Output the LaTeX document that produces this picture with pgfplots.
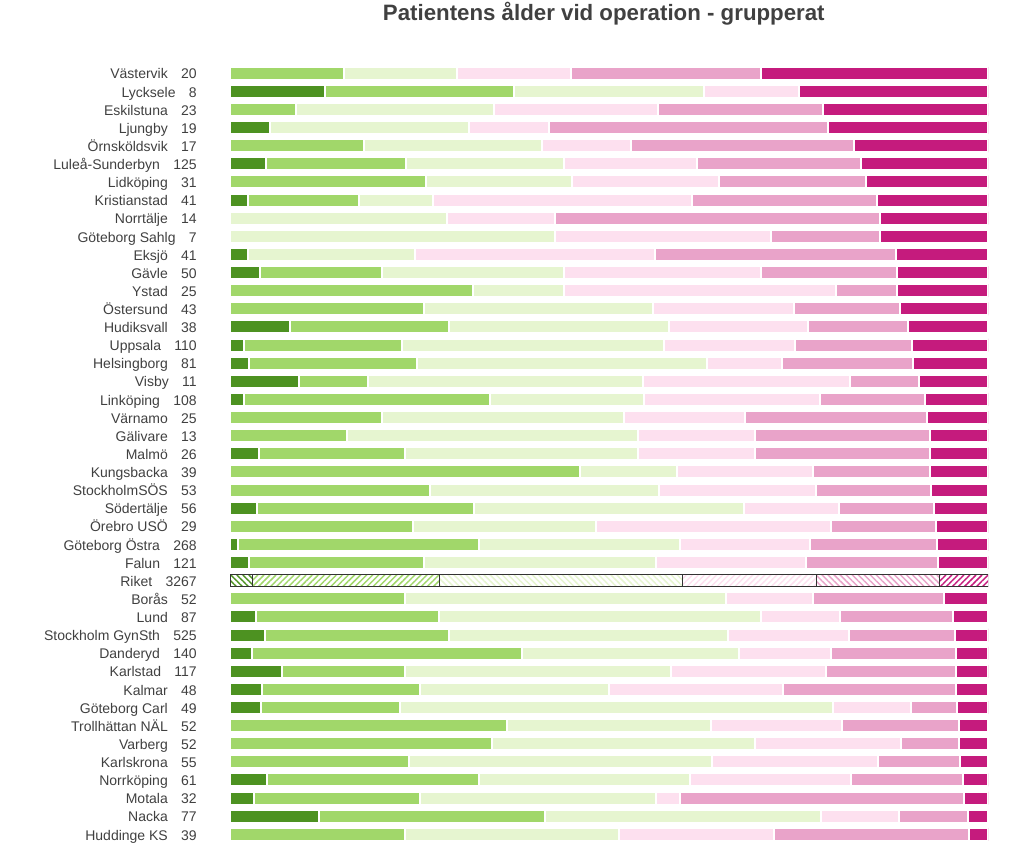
\documentclass[border=0pt]{standalone}
\usepackage{pgfplots}
\pgfplotsset{compat=1.18}
\usepackage{pgfplotstable}
\usetikzlibrary{patterns.meta}
\usepackage{fontspec}
\setmainfont{Liberation Sans}
\definecolor{c1}{HTML}{4D9221}
\definecolor{c2}{HTML}{A1D76A}
\definecolor{c3}{HTML}{E6F5D0}
\definecolor{c4}{HTML}{FDE0EF}
\definecolor{c5}{HTML}{E9A3C9}
\definecolor{c6}{HTML}{C51B7D}
\definecolor{txt}{HTML}{404040}

% counts per age group (n = total), rows top to bottom
\pgfplotstableread{
idx n a b c d e f
0 20 0 3 3 3 5 6
1 8 1 2 2 1 0 2
2 23 0 2 6 5 5 5
3 19 1 0 5 2 7 4
4 17 0 3 4 2 5 3
5 125 6 23 26 22 27 21
6 31 0 8 6 6 6 5
7 41 1 6 4 14 10 6
8 14 0 0 4 2 6 2
9 7 0 0 3 2 1 1
10 41 1 0 9 13 13 5
11 50 2 8 12 13 9 6
12 25 0 8 3 9 2 3
13 43 0 11 13 8 6 5
14 38 3 8 11 7 5 4
15 110 2 23 38 19 17 11
16 81 2 18 31 8 14 8
17 11 1 1 4 3 1 1
18 108 2 35 22 25 15 9
19 25 0 5 8 4 6 2
20 13 0 2 5 2 3 1
21 26 1 5 8 4 6 2
22 39 0 18 5 7 6 3
23 53 0 14 16 11 8 4
24 56 2 16 20 7 7 4
25 29 0 7 7 9 4 2
26 268 3 85 71 46 45 18
27 121 3 28 37 24 21 8
29 52 0 12 22 6 9 3
30 87 3 21 37 9 13 4
31 525 24 128 193 84 73 23
32 140 4 50 40 17 23 6
33 117 8 19 41 24 20 5
34 48 2 10 12 11 11 2
35 49 2 9 28 5 3 2
36 52 0 19 14 9 8 2
37 52 0 18 18 10 4 2
38 55 0 13 22 12 6 2
39 61 3 17 17 13 9 2
40 32 1 7 10 1 12 1
41 77 9 23 28 8 7 2
42 39 0 9 11 8 10 1
}\datatab

\pgfplotstableread{
idx n a b c d e f
28 3267 99 804 1047 578 529 210
}\riket

\begin{document}
\begin{tikzpicture}
\path[use as bounding box] (0,0) rectangle (768pt,-633.75pt);
\node[font=\fontsize{16.7}{20}\selectfont\bfseries, text=txt, anchor=base, inner sep=0pt] at (452.85pt,-15.75pt) {Patientens ålder vid operation - grupperat};

\begin{axis}[
  at={(172.5pt,-632.55pt)}, anchor=south west,
  scale only axis, width=568.5pt, height=584.4pt,
  xbar stacked, bar width=9.75pt,
  xmin=0, xmax=100, ymin=-0.5, ymax=42.5, y dir=reverse,
  axis line style={draw=none},
  xtick=\empty, ytick={0,...,42}, major tick length=0pt,
  yticklabels={
    {Västervik\hspace{10pt}20},{Lycksele\hspace{10pt}8},{Eskilstuna\hspace{10pt}23},
    {Ljungby\hspace{10pt}19},{Örnsköldsvik\hspace{10pt}17},{Luleå-Sunderbyn\hspace{10pt}125},
    {Lidköping\hspace{10pt}31},{Kristianstad\hspace{10pt}41},{Norrtälje\hspace{10pt}14},
    {Göteborg Sahlg\hspace{10pt}7},{Eksjö\hspace{10pt}41},{Gävle\hspace{10pt}50},
    {Ystad\hspace{10pt}25},{Östersund\hspace{10pt}43},{Hudiksvall\hspace{10pt}38},
    {Uppsala\hspace{10pt}110},{Helsingborg\hspace{10pt}81},{Visby\hspace{10pt}11},
    {Linköping\hspace{10pt}108},{Värnamo\hspace{10pt}25},{Gälivare\hspace{10pt}13},
    {Malmö\hspace{10pt}26},{Kungsbacka\hspace{10pt}39},{StockholmSÖS\hspace{10pt}53},
    {Södertälje\hspace{10pt}56},{Örebro USÖ\hspace{10pt}29},{Göteborg Östra\hspace{10pt}268},
    {Falun\hspace{10pt}121},{Riket\hspace{10pt}3267},{Borås\hspace{10pt}52},
    {Lund\hspace{10pt}87},{Stockholm GynSth\hspace{10pt}525},{Danderyd\hspace{10pt}140},
    {Karlstad\hspace{10pt}117},{Kalmar\hspace{10pt}48},{Göteborg Carl\hspace{10pt}49},
    {Trollhättan NÄL\hspace{10pt}52},{Varberg\hspace{10pt}52},{Karlskrona\hspace{10pt}55},
    {Norrköping\hspace{10pt}61},{Motala\hspace{10pt}32},{Nacka\hspace{10pt}77},
    {Huddinge KS\hspace{10pt}39}},
  yticklabel style={anchor=east, inner sep=0pt, xshift=-24.75pt,
    text height=7.5pt, text depth=0pt, yshift=-0.5pt,
    font=\fontsize{10.5}{12}\selectfont, text=txt},
]
\addplot[fill=c1, draw=white, line width=1.5pt] table[y=idx, x expr=\thisrow{a}/\thisrow{n}*100]{\datatab};
\addplot[fill=c2, draw=white, line width=1.5pt] table[y=idx, x expr=\thisrow{b}/\thisrow{n}*100]{\datatab};
\addplot[fill=c3, draw=white, line width=1.5pt] table[y=idx, x expr=\thisrow{c}/\thisrow{n}*100]{\datatab};
\addplot[fill=c4, draw=white, line width=1.5pt] table[y=idx, x expr=\thisrow{d}/\thisrow{n}*100]{\datatab};
\addplot[fill=c5, draw=white, line width=1.5pt] table[y=idx, x expr=\thisrow{e}/\thisrow{n}*100]{\datatab};
\addplot[fill=c6, draw=white, line width=1.5pt] table[y=idx, x expr=\thisrow{f}/\thisrow{n}*100]{\datatab};
\end{axis}

\begin{axis}[
  at={(172.5pt,-632.55pt)}, anchor=south west,
  scale only axis, width=568.5pt, height=584.4pt,
  xbar stacked, bar width=8.5pt,
  xmin=0, xmax=100, ymin=-0.5, ymax=42.5, y dir=reverse,
  hide axis,
]
\addplot[draw=black!80, line width=0.75pt, pattern={Lines[angle=-45,distance=3.2pt,line width=1.1pt]}, pattern color=c1] table[y=idx, x expr=\thisrow{a}/\thisrow{n}*100]{\riket};
\addplot[draw=black!80, line width=0.75pt, pattern={Lines[angle=45,distance=3.2pt,line width=1.1pt]}, pattern color=c2] table[y=idx, x expr=\thisrow{b}/\thisrow{n}*100]{\riket};
\addplot[draw=black!80, line width=0.75pt, pattern={Lines[angle=-45,distance=3.2pt,line width=1.1pt]}, pattern color=c3] table[y=idx, x expr=\thisrow{c}/\thisrow{n}*100]{\riket};
\addplot[draw=black!80, line width=0.75pt, pattern={Lines[angle=45,distance=3.2pt,line width=1.1pt]}, pattern color=c4] table[y=idx, x expr=\thisrow{d}/\thisrow{n}*100]{\riket};
\addplot[draw=black!80, line width=0.75pt, pattern={Lines[angle=-45,distance=3.2pt,line width=1.1pt]}, pattern color=c5] table[y=idx, x expr=\thisrow{e}/\thisrow{n}*100]{\riket};
\addplot[draw=black!80, line width=0.75pt, pattern={Lines[angle=45,distance=3.2pt,line width=1.1pt]}, pattern color=c6] table[y=idx, x expr=\thisrow{f}/\thisrow{n}*100]{\riket};
\end{axis}
\end{tikzpicture}
\end{document}
